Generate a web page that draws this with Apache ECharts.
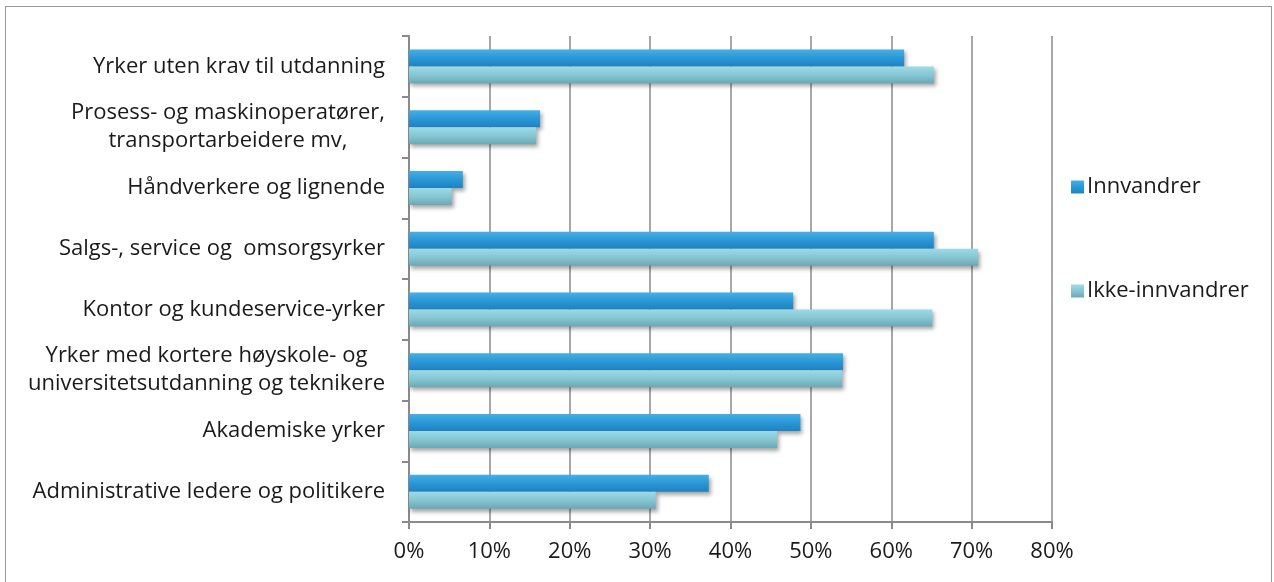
<!DOCTYPE html>
<html>
<head>
<meta charset="utf-8">
<script src="https://cdn.jsdelivr.net/npm/echarts@6/dist/echarts.min.js"></script>
<style>
  html, body { margin: 0; padding: 0; background: #fff; }
  #frame { position: absolute; left: 5px; top: 6px; width: 1267px; height: 580px; border: 1px solid #9a9a9a; box-sizing: border-box; }
  #chart { position: absolute; left: 0; top: 0; width: 1274px; height: 582px; }
</style>
</head>
<body>
<div id="frame"></div>
<div id="chart"></div>
<script>
// Categories listed bottom to top
const categories = [
  'Administrative ledere og politikere',
  'Akademiske yrker',
  'Yrker med kortere høyskole- og\nuniversitetsutdanning og teknikere',
  'Kontor og kundeservice-yrker',
  'Salgs-, service og  omsorgsyrker',
  'Håndverkere og lignende',
  'Prosess- og maskinoperatører,\ntransportarbeidere mv,',
  'Yrker uten krav til utdanning'
];
const innvandrer = [37.3, 48.7, 54.0, 47.8, 65.3, 6.7, 16.3, 61.6];
const ikkeInnvandrer = [30.7, 45.8, 53.9, 65.1, 70.8, 5.3, 15.8, 65.3];
const seriesNames = ['Innvandrer', 'Ikke-innvandrer'];
const xTicks = { min: 0, max: 80, interval: 10 };

const FONT = '"Open Sans", sans-serif';
const FS = 22;
const FW = 400;
const blueGrad = new echarts.graphic.LinearGradient(0, 0, 0, 1, [
  { offset: 0, color: '#45b0e6' },
  { offset: 0.5, color: '#2b97d6' },
  { offset: 1, color: '#1f82c3' }
]);
const tealGrad = new echarts.graphic.LinearGradient(0, 0, 0, 1, [
  { offset: 0, color: '#9cdae6' },
  { offset: 0.5, color: '#86c7d3' },
  { offset: 1, color: '#6ca8b3' }
]);

const chart = echarts.init(document.getElementById('chart'), null, { renderer: 'canvas' });
const shadow = { shadowColor: 'rgba(0,0,0,0.35)', shadowBlur: 4, shadowOffsetX: 2, shadowOffsetY: 3 };

chart.setOption({
  animation: false,
  textStyle: { fontFamily: FONT },
  grid: { left: 409, right: 222, top: 36, bottom: 60, containLabel: false },
  legend: {
    orient: 'vertical',
    left: 1066,
    top: 171,
    itemWidth: 13,
    itemHeight: 13,
    itemGap: 82,
    icon: 'rect',
    data: seriesNames,
    textStyle: { fontSize: FS, fontWeight: FW, color: '#1a1a1a', fontFamily: FONT, padding: [0, 0, 0, -2] }
  },
  xAxis: {
    type: 'value',
    min: xTicks.min, max: xTicks.max, interval: xTicks.interval,
    axisLine: { show: true, lineStyle: { color: '#8a8a8a', width: 2 } },
    axisTick: { show: true, length: 7, lineStyle: { color: '#8a8a8a', width: 2 } },
    splitLine: { show: true, lineStyle: { color: '#8a8a8a', width: 1.5 } },
    axisLabel: { formatter: '{value}%', fontSize: FS, fontWeight: FW, color: '#1a1a1a', margin: 19, fontFamily: FONT }
  },
  yAxis: {
    type: 'category',
    data: categories,
    axisLine: { show: true, lineStyle: { color: '#8a8a8a', width: 2 } },
    axisTick: { show: true, length: 7, lineStyle: { color: '#8a8a8a', width: 2 } },
    axisLabel: {
      fontSize: FS, color: '#1a1a1a', margin: 24, fontFamily: FONT, lineHeight: 28,
      formatter: function (v) { return v.split('\n').map(s => '{c|' + s + '}').join('\n'); },
      rich: { c: { align: 'center', fontSize: FS, fontWeight: FW, color: '#1a1a1a', fontFamily: FONT, lineHeight: 28 } }
    }
  },
  series: [
    {
      name: 'Innvandrer', type: 'bar', data: innvandrer,
      barWidth: 17, barGap: '0%',
      itemStyle: Object.assign({ color: blueGrad }, shadow)
    },
    {
      name: 'Ikke-innvandrer', type: 'bar', data: ikkeInnvandrer,
      barWidth: 17, barGap: '0%',
      itemStyle: Object.assign({ color: tealGrad }, shadow)
    }
  ]
});
</script>
</body>
</html>
